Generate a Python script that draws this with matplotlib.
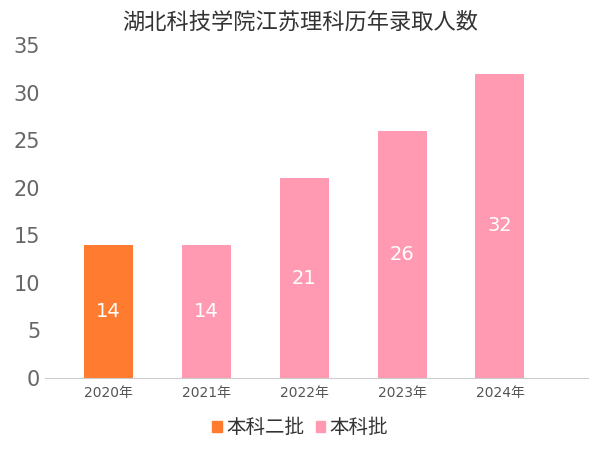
import matplotlib.pyplot as plt
from matplotlib.patches import Patch

plt.rcParams['font.family'] = ['DejaVu Sans', 'Noto Sans CJK SC', 'Noto Sans CJK JP']

years = ['2020年', '2021年', '2022年', '2023年', '2024年']
counts = [14, 14, 21, 26, 32]
batches = ['本科二批', '本科批', '本科批', '本科批', '本科批']
batch_colors = {'本科二批': '#FF7B30', '本科批': '#FF9AB2'}

fig = plt.figure(figsize=(6, 4.5), dpi=100)
ax = fig.add_axes([0.075, 0.16, 0.905, 0.74])

x = range(len(years))
bars = ax.bar(x, counts, width=0.5, color=[batch_colors[b] for b in batches])
for i, v in enumerate(counts):
    ax.text(i, v / 2, str(v), ha='center', va='center', color='white', fontsize=14)

ax.set_xticks(list(x))
ax.set_xticklabels(years, fontsize=10, color='#555555')
ax.set_xlim(-0.65, len(years) - 0.1)
ax.set_ylim(0, 35)
ax.set_yticks(range(0, 36, 5))
ax.tick_params(axis='y', labelsize=15, colors='#666666', length=0)
ax.tick_params(axis='x', length=0, pad=6)
for s in ['top', 'right', 'left']:
    ax.spines[s].set_visible(False)
ax.spines['bottom'].set_color('#cccccc')

fig.suptitle('湖北科技学院江苏理科历年录取人数', fontsize=16, color='#333333', y=0.975)

handles = [Patch(color=c, label=k) for k, c in batch_colors.items()]
fig.legend(handles=handles, loc='lower center', ncol=2, frameon=False,
           fontsize=14, handlelength=0.5, handleheight=0.5, handletextpad=0.2,
           columnspacing=0.6, bbox_to_anchor=(0.5, -0.01), labelcolor='#333333')

fig.savefig('out.png')
